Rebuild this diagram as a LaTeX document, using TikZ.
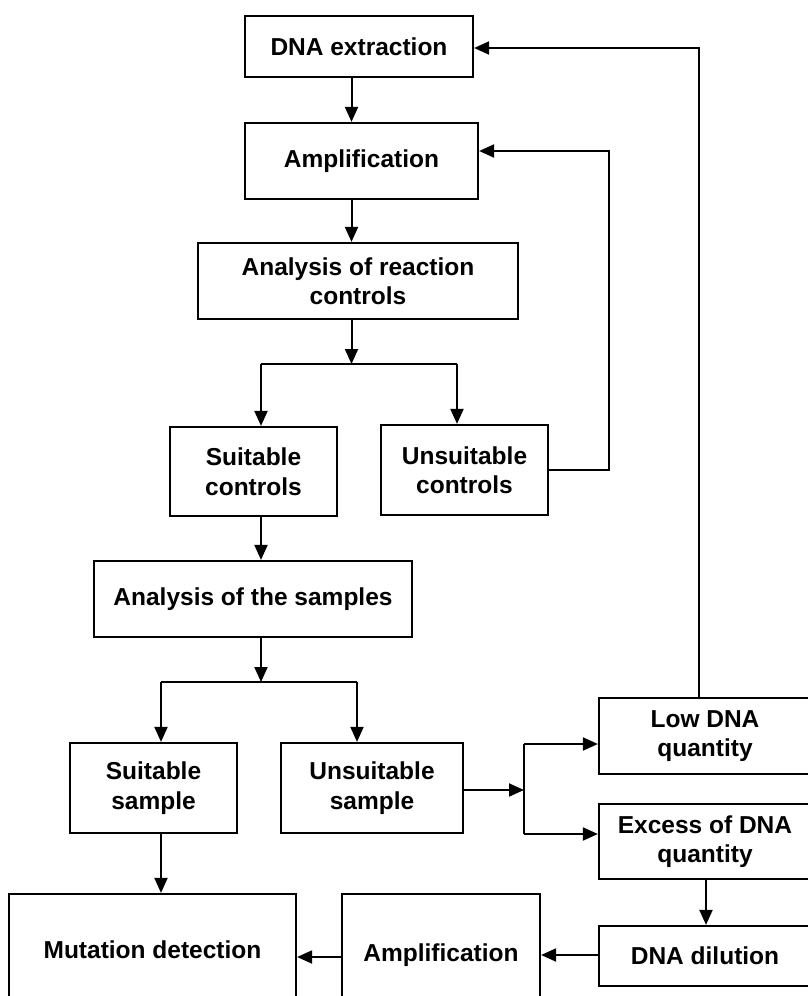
\documentclass[tikz,border=0pt]{standalone}
\usepackage{fontspec}
\setmainfont{Liberation Sans}
\usetikzlibrary{arrows.meta}
\begin{document}
\begin{tikzpicture}[x=1pt,y=-1pt,
  box/.style={draw,line width=2.2pt,rectangle,inner sep=0pt,align=center,
    font=\bfseries\fontsize{24.5}{29.5}\selectfont},
  con/.style={line width=2pt},
  arr/.style={con,-{Triangle[length=15pt,width=13pt]}}]
\useasboundingbox (0,0) rectangle (808,996);
\clip (0,0) rectangle (808,996);
\node[box,minimum width=228pt,minimum height=61pt] (ext) at (359,46.5) {DNA extraction};
\node[box,minimum width=233pt,minimum height=76pt] (amp1) at (361.5,161) {Amplification};
\node[box,minimum width=320pt,minimum height=76pt] (arc) at (358,281) {Analysis of reaction\\controls};
\node[box,minimum width=167pt,minimum height=89pt] (sc) at (253.5,471.5) {Suitable\\controls};
\node[box,minimum width=167pt,minimum height=90pt] (uc) at (464.5,470) {Unsuitable\\controls};
\node[box,minimum width=318pt,minimum height=76pt] (ans) at (253,599) {Analysis of the samples};
\node[box,minimum width=167pt,minimum height=90pt] (ss) at (153.5,788) {Suitable\\sample};
\node[box,minimum width=182pt,minimum height=90pt] (us) at (372,788) {Unsuitable\\sample};
\node[box,minimum width=212pt,minimum height=76pt] (low) at (705,736) {Low DNA\\quantity};
\node[box,minimum width=212pt,minimum height=75pt] (exc) at (705,841.5) {Excess of DNA\\quantity};
\node[box,minimum width=212pt,minimum height=60pt] (dil) at (705,956) {DNA dilution};
\node[box,minimum width=198pt,minimum height=122pt] (amp2) at (441,955) {Amplification};
\node[box,minimum width=287pt,minimum height=112pt] (mut) at (152.5,950) {Mutation detection};
\coordinate (xa) at (351.5,0);
\coordinate (b1) at (351.5,364);
\coordinate (b1l) at (261,364);
\coordinate (b1r) at (457,364);
\coordinate (r1) at (609,151);
\coordinate (r2) at (699,48);
\coordinate (b2) at (261,682);
\coordinate (b2l) at (161,682);
\coordinate (b2r) at (357,682);
\coordinate (j) at (524,790);
\coordinate (jt) at (524,744);
\coordinate (jb) at (524,834);
% main chain
\draw[arr] (ext.south -| xa) -- (amp1.north -| xa);
\draw[arr] (amp1.south -| xa) -- (arc.north -| xa);
\draw[arr] (arc.south -| xa) -- (b1);
\draw[con] (b1l) -- (b1r);
\draw[arr] (b1l) -- (sc.north -| b1l);
\draw[arr] (b1r) -- (uc.north -| b1r);
\draw[arr] (uc.east |- 0,470) -| (r1) -- (amp1.east |- r1);
\draw[arr] (sc.south -| b2) -- (ans.north -| b2);
\draw[arr] (ans.south -| b2) -- (b2);
\draw[con] (b2l) -- (b2r);
\draw[arr] (b2l) -- (ss.north -| b2l);
\draw[arr] (b2r) -- (us.north -| b2r);
\draw[arr] (ss.south -| b2l) -- (mut.north -| b2l);
\draw[arr] (us.east |- j) -- (j);
\draw[con] (jt) -- (jb);
\draw[arr] (jt) -- (low.west |- jt);
\draw[arr] (jb) -- (exc.west |- jb);
\draw[arr] (low.north -| r2) -- (r2) -- (ext.east |- r2);
\draw[arr] (exc.south -| 706,0) -- (dil.north -| 706,0);
\draw[arr] (dil.west |- 0,955) -- (amp2.east |- 0,955);
\draw[arr] (amp2.west |- 0,957) -- (mut.east |- 0,957);
\end{tikzpicture}
\end{document}
